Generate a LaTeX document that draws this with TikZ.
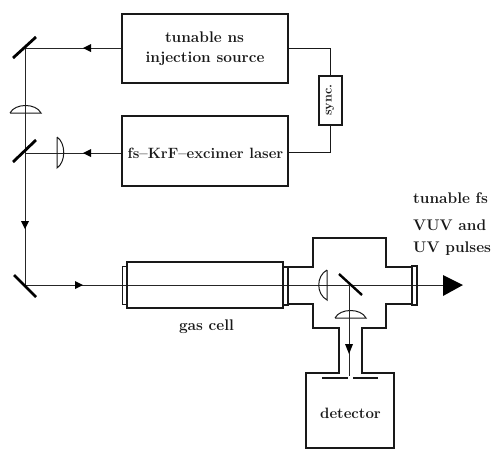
\documentclass[tikz,border=0pt]{standalone}
\usetikzlibrary{arrows.meta}
\tikzset{
  heavy/.style={draw=black!90,line width=2pt},
  beam/.style={draw=black!85,line width=0.9pt},
  thin part/.style={draw=black!90,line width=1pt},
  mirror/.style={draw=black,line width=2.8pt},
  lab/.style={font=\fontsize{15.4}{18}\selectfont\bfseries,text=black!90,align=center,inner sep=0pt},
  tip/.style={fill=black,draw=none}
}
\begin{document}
\begin{tikzpicture}[x=1pt,y=-1pt]
\useasboundingbox (0,0) rectangle (492,450);
% boxes
\node[heavy,minimum width=166pt,minimum height=69pt,inner sep=0pt] (inj) at (205,48.5) {};
\node[heavy,minimum width=166pt,minimum height=70pt,inner sep=0pt] (krf) at (205,151) {};
\node[lab] at (204.5,37) {tunable ns};
\node[lab] at (205,59) {injection source};
\node[lab,font=\fontsize{14.9}{18}\selectfont\bfseries] at (205.5,153) {fs--KrF--excimer laser};
% sync
\node[heavy,minimum width=23pt,minimum height=49pt,inner sep=0pt] (sync) at (330,100.5) {};
\node[lab,rotate=90,font=\fontsize{12.7}{15}\selectfont\bfseries] at (330,100) {sync.};
\draw[thin part] (inj.east |- 0,48) -- (330,48) -- (sync.north);
\draw[thin part] (krf.east |- 0,152) -- (330,152) -- (sync.south);
% mirrors and beam path
\coordinate (m1) at (25,48);
\coordinate (m2) at (25,153);
\coordinate (m3) at (25,285);
\draw[beam] (inj.west |- m1) -- (m1) -- (m3) -- (443,285);
\draw[beam] (krf.west |- m2) -- (m2);
\draw[mirror] (13,58) -- (36,37);
\draw[mirror] (13,162) -- (36,140);
\draw[mirror] (14,275) -- (36,297);
\fill[tip] (83,48) -- (91,44) -- (91,52) -- cycle;
\fill[tip] (83,153) -- (91,149) -- (91,157) -- cycle;
\fill[tip] (25,229) -- (21,221) -- (29,221) -- cycle;
\fill[tip] (83,285) -- (75,281) -- (75,289) -- cycle;
% lenses
\draw[thin part] (10,113) -- (41,113) .. controls (36,103) and (15,103) .. (10,113);
\draw[thin part] (57,137) -- (57,168) .. controls (66,162) and (66,143) .. (57,137);
\draw[thin part] (327,270) -- (327,300) .. controls (316,294) and (316,276) .. (327,270);
\draw[thin part] (335,318) -- (366,318) .. controls (361,308) and (340,308) .. (335,318);
% gas cell
\draw[thin part] (127,266) -- (122,266) -- (122,304) -- (127,304);
\node[heavy,minimum width=156pt,minimum height=46pt,inner sep=0pt] (cell) at (205,285) {};
\draw[thin part,line width=1.3pt] (283,267) rectangle (288,305);
\node[lab] at (206.5,327) {gas cell};
% chamber
\draw[heavy] (288,267) -- (313,267) -- (313,238) -- (386,238) -- (386,267) -- (412,267);
\draw[heavy] (288,304) -- (313,304) -- (313,328) -- (339,328) -- (339,373) -- (306,373) -- (306,448) -- (394,448) -- (394,373) -- (362,373) -- (362,328) -- (386,328) -- (386,304) -- (412,304);
\draw[thin part,line width=1.3pt] (412,266) rectangle (417,305);
\draw[mirror,line width=2.4pt] (339,274) -- (362,295);
% detector path
\coordinate (d) at (349,285);
\coordinate (s) at (349,376);
\draw[beam] (d) -- (s);
\fill[tip] (349,354) -- (345,344) -- (353,344) -- cycle;
\draw[thin part,line width=1.4pt] (322,378) -- (348,378) (353,378) -- (378,378);
\node[lab,font=\fontsize{15}{18}\selectfont\bfseries] (det) at (350.5,413) {detector};
% output
\fill[tip] (463,285) -- (443,275) -- (443,296) -- cycle;
\node[lab,anchor=west] at (413,198) {tunable fs};
\node[lab,anchor=west] at (413,225) {VUV and};
\node[lab,anchor=west] at (413,249) {UV pulses};
\end{tikzpicture}
\end{document}
